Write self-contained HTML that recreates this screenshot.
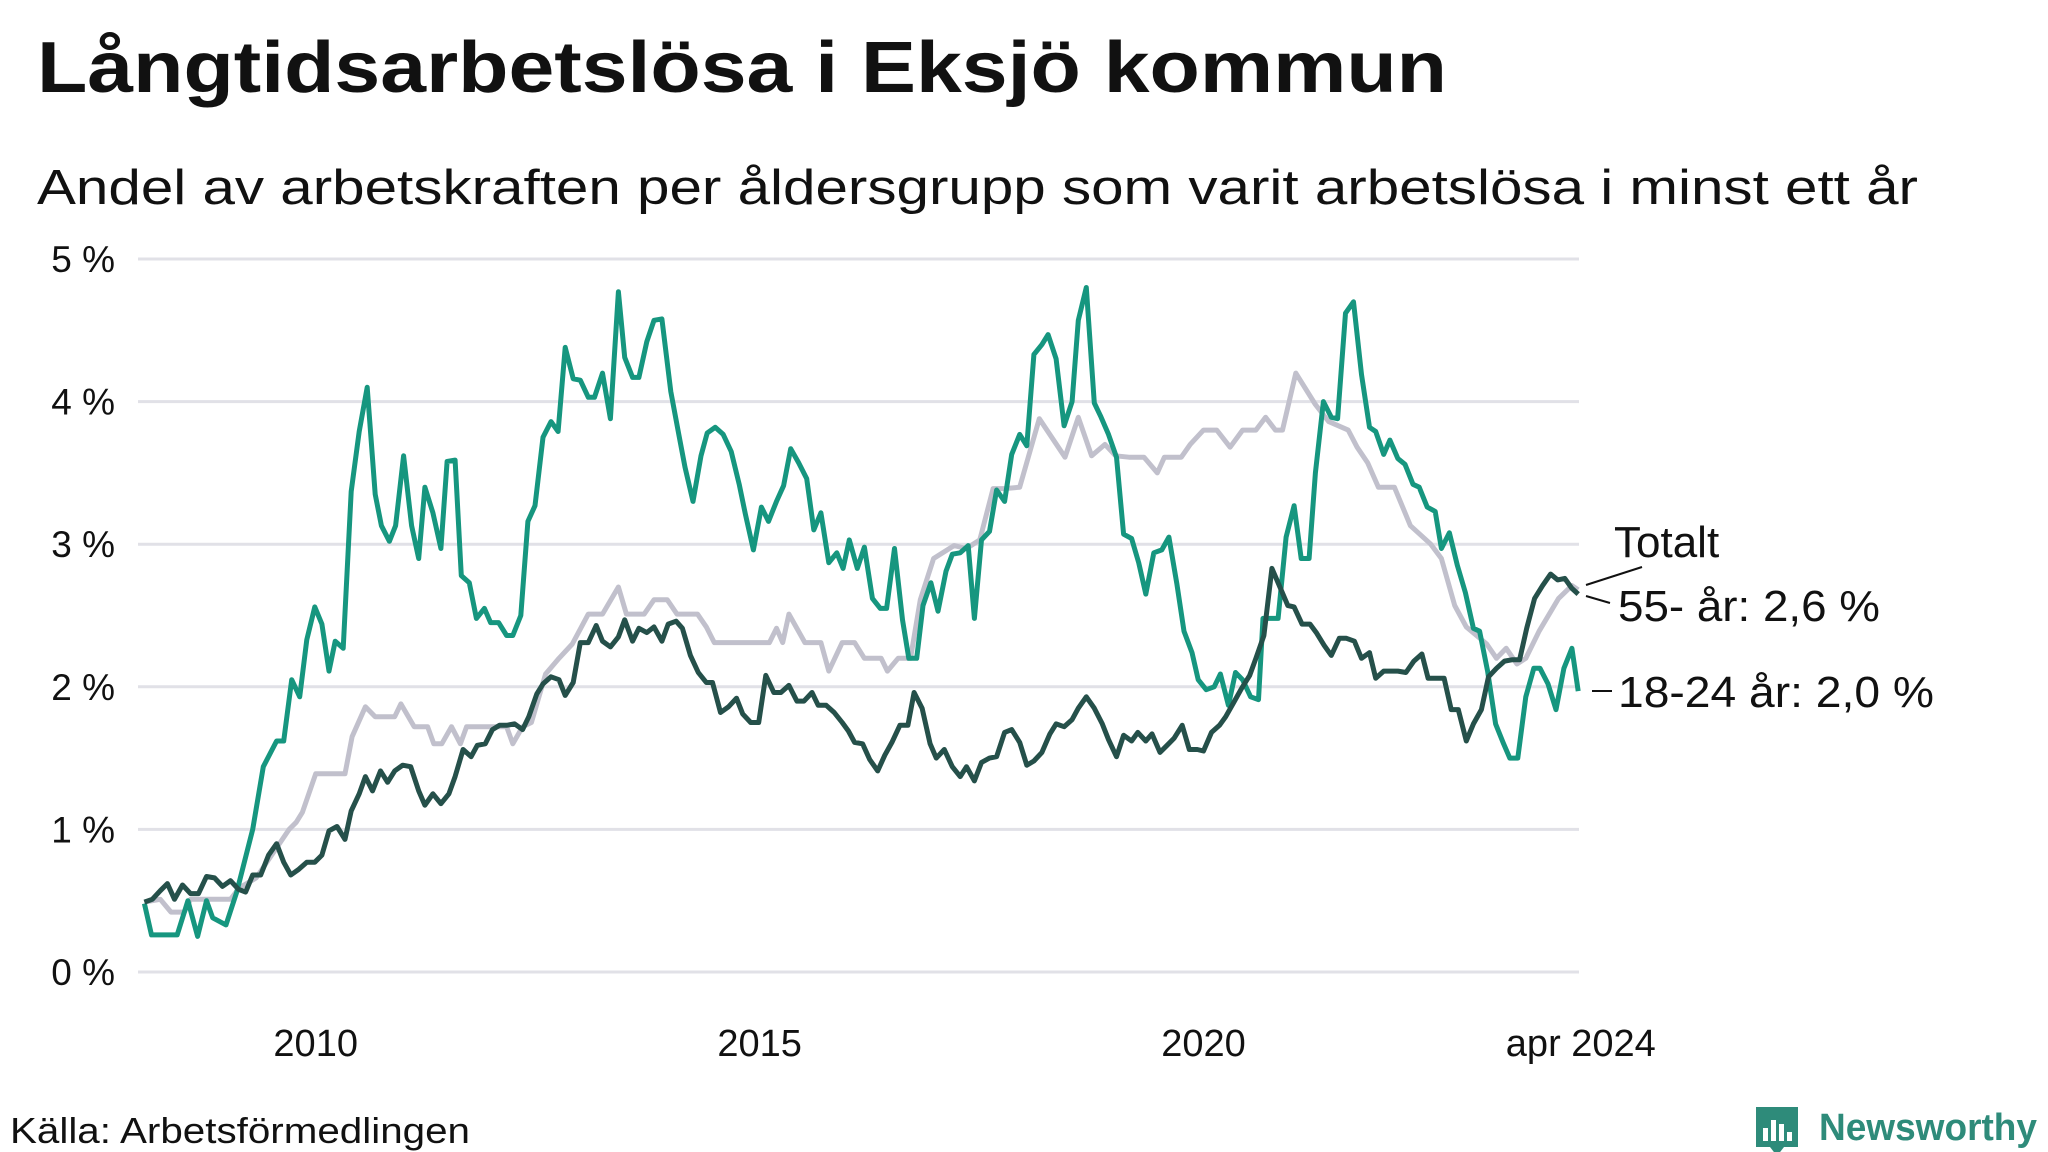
<!DOCTYPE html>
<html><head><meta charset="utf-8"><style>
html,body{margin:0;padding:0;background:#fff}
svg{display:block;font-family:"Liberation Sans",sans-serif}
</style></head><body>
<svg id="chart" width="2048" height="1152" viewBox="0 0 2048 1152">
<text x="37" y="92" font-size="72" font-weight="bold" fill="#111" textLength="1410" lengthAdjust="spacingAndGlyphs">Långtidsarbetslösa i Eksjö kommun</text>
<text x="37" y="204" font-size="49" fill="#111" textLength="1881" lengthAdjust="spacingAndGlyphs">Andel av arbetskraften per åldersgrupp som varit arbetslösa i minst ett år</text>
<g id="grid"></g>
<g id="yticks"></g>
<g id="xticks"></g>
<g id="lines"></g>
<g font-size="44" fill="#111">
<text x="1614" y="557">Totalt</text>
<text x="1618" y="621" textLength="262" lengthAdjust="spacingAndGlyphs">55- år: 2,6 %</text>
<text x="1618" y="707" textLength="316" lengthAdjust="spacingAndGlyphs">18-24 år: 2,0 %</text>
<line x1="1586" y1="585" x2="1642" y2="567" stroke="#111" stroke-width="2"/>
<line x1="1586" y1="596" x2="1610" y2="603" stroke="#111" stroke-width="2"/>
<line x1="1592" y1="691" x2="1612" y2="691" stroke="#111" stroke-width="2"/>
</g>
<text x="10" y="1143" font-size="36" fill="#111" textLength="460" lengthAdjust="spacingAndGlyphs">Källa: Arbetsförmedlingen</text>
<g>
<path d="M1756 1107 h42 v40 h-14 l-7 9 l-7 -9 h-14 z" fill="#2e8b7a"/>
<rect x="1763" y="1128" width="5" height="13" fill="#fff"/><rect x="1771" y="1120" width="5" height="21" fill="#fff"/><rect x="1779" y="1124" width="5" height="17" fill="#fff"/><rect x="1787" y="1132" width="5" height="9" fill="#fff"/>
<text x="1819" y="1140" font-size="38" font-weight="bold" fill="#2e8b7a" textLength="218" lengthAdjust="spacingAndGlyphs">Newsworthy</text>
</g>
</svg>
<script>
const yTicks=[0,1,2,3,4,5];
const yTickLabels=["0 %","1 %","2 %","3 %","4 %","5 %"];
const xTicks=[2010,2015,2020,2024.25];
const xTickLabels=["2010","2015","2020","apr 2024"];
const youthDates=[2008.07,2008.15,2008.44,2008.56,2008.67,2008.77,2008.84,2008.99,2009.11,2009.29,2009.41,2009.56,2009.64,2009.73,2009.82,2009.9,2009.99,2010.07,2010.15,2010.22,2010.31,2010.4,2010.49,2010.58,2010.67,2010.74,2010.83,2010.9,2010.99,2011.08,2011.16,2011.23,2011.32,2011.41,2011.48,2011.57,2011.64,2011.73,2011.81,2011.9,2011.97,2012.06,2012.15,2012.22,2012.31,2012.39,2012.47,2012.56,2012.65,2012.73,2012.81,2012.9,2012.98,2013.07,2013.14,2013.23,2013.32,2013.41,2013.48,2013.57,2013.64,2013.73,2013.81,2013.9,2014.0,2014.09,2014.16,2014.25,2014.34,2014.41,2014.5,2014.59,2014.68,2014.77,2014.84,2014.93,2015.02,2015.1,2015.19,2015.27,2015.35,2015.44,2015.53,2015.61,2015.69,2015.78,2015.87,2015.94,2016.01,2016.1,2016.18,2016.27,2016.36,2016.43,2016.52,2016.61,2016.68,2016.77,2016.84,2016.93,2017.01,2017.1,2017.17,2017.26,2017.35,2017.42,2017.5,2017.59,2017.67,2017.76,2017.84,2017.93,2018.01,2018.09,2018.18,2018.25,2018.34,2018.43,2018.52,2018.59,2018.68,2018.77,2018.84,2018.93,2019.02,2019.1,2019.19,2019.27,2019.35,2019.44,2019.53,2019.61,2019.7,2019.78,2019.87,2019.94,2020.03,2020.12,2020.19,2020.28,2020.36,2020.44,2020.53,2020.62,2020.67,2020.76,2020.84,2020.93,2021.02,2021.1,2021.19,2021.26,2021.35,2021.44,2021.51,2021.6,2021.69,2021.78,2021.87,2021.94,2022.03,2022.1,2022.19,2022.27,2022.36,2022.43,2022.52,2022.61,2022.68,2022.77,2022.86,2022.95,2023.04,2023.11,2023.2,2023.29,2023.38,2023.45,2023.54,2023.63,2023.72,2023.79,2023.88,2023.97,2024.06,2024.15,2024.22];
const youthValues=[0.48,0.26,0.26,0.5,0.25,0.5,0.38,0.33,0.56,1.0,1.44,1.62,1.62,2.05,1.93,2.33,2.56,2.44,2.11,2.32,2.27,3.37,3.79,4.1,3.35,3.13,3.02,3.13,3.62,3.13,2.9,3.4,3.22,2.97,3.58,3.59,2.78,2.73,2.48,2.55,2.45,2.45,2.36,2.36,2.5,3.16,3.27,3.75,3.86,3.79,4.38,4.16,4.15,4.03,4.03,4.2,3.88,4.77,4.31,4.17,4.17,4.42,4.57,4.58,4.07,3.77,3.54,3.3,3.62,3.78,3.82,3.77,3.65,3.42,3.21,2.96,3.26,3.16,3.3,3.41,3.67,3.57,3.46,3.1,3.22,2.87,2.94,2.83,3.03,2.83,2.98,2.62,2.55,2.55,2.97,2.47,2.2,2.2,2.57,2.73,2.53,2.81,2.93,2.94,2.99,2.48,3.03,3.09,3.38,3.3,3.63,3.77,3.69,4.33,4.4,4.47,4.3,3.83,4.0,4.57,4.8,3.99,3.9,3.77,3.61,3.07,3.04,2.87,2.65,2.94,2.96,3.05,2.72,2.39,2.24,2.05,1.98,2.0,2.09,1.87,2.1,2.05,1.93,1.91,2.48,2.48,2.48,3.05,3.27,2.9,2.9,3.5,4.0,3.89,3.88,4.62,4.7,4.19,3.82,3.79,3.63,3.73,3.6,3.56,3.42,3.4,3.26,3.23,2.97,3.08,2.85,2.66,2.41,2.39,2.11,1.74,1.6,1.5,1.5,1.93,2.13,2.13,2.02,1.84,2.13,2.27,1.97];
const totalDates=[2008.07,2008.16,2008.25,2008.33,2008.41,2008.5,2008.59,2008.68,2008.77,2008.86,2008.95,2009.04,2009.13,2009.21,2009.29,2009.38,2009.47,2009.56,2009.64,2009.72,2009.81,2009.9,2009.99,2010.07,2010.15,2010.24,2010.33,2010.4,2010.49,2010.56,2010.64,2010.73,2010.81,2010.89,2010.98,2011.07,2011.16,2011.23,2011.32,2011.41,2011.5,2011.57,2011.66,2011.75,2011.82,2011.91,2011.99,2012.07,2012.15,2012.24,2012.33,2012.4,2012.49,2012.56,2012.65,2012.74,2012.81,2012.9,2012.98,2013.07,2013.16,2013.23,2013.32,2013.41,2013.48,2013.57,2013.64,2013.73,2013.81,2013.9,2013.97,2014.06,2014.13,2014.22,2014.31,2014.4,2014.47,2014.56,2014.65,2014.74,2014.81,2014.9,2014.99,2015.07,2015.16,2015.24,2015.33,2015.42,2015.5,2015.59,2015.66,2015.75,2015.84,2015.93,2016.0,2016.07,2016.16,2016.24,2016.33,2016.41,2016.49,2016.58,2016.67,2016.74,2016.83,2016.92,2016.99,2017.08,2017.17,2017.26,2017.33,2017.42,2017.5,2017.59,2017.67,2017.76,2017.84,2017.93,2018.01,2018.09,2018.18,2018.27,2018.34,2018.43,2018.52,2018.59,2018.68,2018.77,2018.86,2018.93,2019.02,2019.1,2019.19,2019.26,2019.35,2019.42,2019.51,2019.59,2019.67,2019.76,2019.84,2019.93,2020.0,2020.09,2020.18,2020.25,2020.34,2020.43,2020.52,2020.59,2020.68,2020.77,2020.86,2020.95,2021.02,2021.11,2021.2,2021.27,2021.36,2021.44,2021.53,2021.61,2021.7,2021.78,2021.87,2021.94,2022.03,2022.1,2022.19,2022.28,2022.37,2022.46,2022.53,2022.62,2022.71,2022.79,2022.87,2022.96,2023.04,2023.13,2023.21,2023.3,2023.39,2023.48,2023.56,2023.64,2023.73,2023.82,2023.91,2023.99,2024.07,2024.15,2024.22];
const totalValues=[0.49,0.51,0.57,0.62,0.51,0.61,0.55,0.55,0.67,0.66,0.6,0.64,0.58,0.56,0.68,0.68,0.82,0.9,0.77,0.68,0.72,0.77,0.77,0.82,0.99,1.02,0.93,1.13,1.25,1.37,1.27,1.41,1.33,1.41,1.45,1.44,1.27,1.17,1.25,1.18,1.25,1.37,1.56,1.51,1.59,1.6,1.7,1.73,1.73,1.74,1.7,1.79,1.95,2.02,2.07,2.05,1.94,2.03,2.31,2.31,2.43,2.32,2.28,2.35,2.47,2.32,2.41,2.38,2.42,2.32,2.44,2.46,2.41,2.22,2.1,2.03,2.03,1.82,1.86,1.92,1.81,1.75,1.75,2.08,1.96,1.96,2.01,1.9,1.9,1.96,1.87,1.87,1.82,1.75,1.69,1.61,1.6,1.49,1.41,1.52,1.61,1.73,1.73,1.96,1.85,1.6,1.5,1.56,1.44,1.37,1.44,1.34,1.47,1.5,1.51,1.68,1.7,1.61,1.45,1.48,1.54,1.67,1.74,1.72,1.77,1.85,1.93,1.85,1.74,1.63,1.51,1.66,1.62,1.68,1.62,1.67,1.54,1.59,1.64,1.73,1.56,1.56,1.55,1.68,1.73,1.79,1.89,1.99,2.08,2.2,2.36,2.83,2.7,2.57,2.56,2.44,2.44,2.38,2.29,2.22,2.34,2.34,2.32,2.2,2.24,2.06,2.11,2.11,2.11,2.1,2.18,2.23,2.06,2.06,2.06,1.84,1.84,1.62,1.74,1.84,2.07,2.13,2.18,2.19,2.19,2.41,2.62,2.71,2.79,2.75,2.76,2.69,2.65];
const olderDates=[2008.07,2008.25,2008.37,2008.52,2008.59,2009.04,2009.14,2009.33,2009.56,2009.7,2009.78,2009.85,2010.0,2010.33,2010.41,2010.56,2010.67,2010.89,2010.96,2011.11,2011.26,2011.33,2011.42,2011.53,2011.63,2011.7,2012.15,2012.22,2012.33,2012.43,2012.59,2012.74,2012.89,2013.07,2013.23,2013.41,2013.5,2013.7,2013.81,2013.96,2014.07,2014.3,2014.4,2014.49,2015.11,2015.19,2015.26,2015.33,2015.51,2015.69,2015.78,2015.93,2016.07,2016.18,2016.37,2016.44,2016.56,2016.7,2016.81,2016.96,2017.19,2017.33,2017.48,2017.63,2017.76,2017.93,2018.15,2018.44,2018.59,2018.74,2018.89,2019.01,2019.16,2019.33,2019.48,2019.56,2019.75,2019.85,2020.0,2020.15,2020.3,2020.44,2020.59,2020.7,2020.81,2020.89,2021.04,2021.26,2021.41,2021.63,2021.73,2021.85,2021.97,2022.15,2022.33,2022.56,2022.68,2022.83,2022.96,2023.19,2023.3,2023.41,2023.53,2023.63,2023.78,2024.0,2024.15,2024.22];
const olderValues=[0.49,0.51,0.42,0.42,0.51,0.51,0.59,0.66,0.87,1.0,1.05,1.12,1.39,1.39,1.65,1.86,1.79,1.79,1.88,1.72,1.72,1.6,1.6,1.72,1.6,1.72,1.72,1.6,1.72,1.75,2.09,2.2,2.3,2.51,2.51,2.7,2.51,2.51,2.61,2.61,2.51,2.51,2.42,2.31,2.31,2.41,2.31,2.51,2.31,2.31,2.11,2.31,2.31,2.2,2.2,2.11,2.2,2.2,2.61,2.9,2.99,2.97,3.03,3.39,3.39,3.4,3.88,3.61,3.89,3.62,3.7,3.62,3.61,3.61,3.5,3.61,3.61,3.7,3.8,3.8,3.68,3.8,3.8,3.89,3.8,3.8,4.2,3.98,3.86,3.8,3.68,3.57,3.4,3.4,3.13,3.0,2.9,2.57,2.42,2.3,2.2,2.27,2.16,2.2,2.39,2.62,2.71,2.68];
const NS='http://www.w3.org/2000/svg';
function xScale(yr){return 315.7+(yr-2010)*88.78;}
function yScale(v){return 972-v*142.6;}
const grid=document.getElementById('grid'),yt=document.getElementById('yticks'),xt=document.getElementById('xticks'),lines=document.getElementById('lines');
yTicks.forEach((t,i)=>{
  const l=document.createElementNS(NS,'line');
  
  
  l.setAttribute('x1',138);l.setAttribute('x2',1579);l.setAttribute('y1',yScale(t));l.setAttribute('y2',yScale(t));
  l.setAttribute('stroke','#e1e1e7');l.setAttribute('stroke-width',3);
  grid.appendChild(l);
  const tx=document.createElementNS(NS,'text');
  
  
  tx.setAttribute('x',115);tx.setAttribute('y',yScale(t)+13);tx.setAttribute('text-anchor','end');
  tx.setAttribute('font-size','37');tx.setAttribute('fill','#111');
  tx.textContent=yTickLabels[i];
  yt.appendChild(tx);
});
xTicks.forEach((t,i)=>{
  const tx=document.createElementNS(NS,'text');
  
  
  tx.setAttribute('x',xScale(t));tx.setAttribute('y',1056);tx.setAttribute('text-anchor','middle');
  tx.setAttribute('font-size','38');tx.setAttribute('fill','#111');
  tx.textContent=xTickLabels[i];
  xt.appendChild(tx);
});
function drawLine(dates,vals,color,name){
  const p=document.createElementNS(NS,'path');
  
  
  p.setAttribute('d',dates.map((d,i)=>(i?'L':'M')+xScale(d).toFixed(1)+' '+yScale(vals[i]).toFixed(1)).join(' '));
  p.setAttribute('fill','none');p.setAttribute('stroke',color);p.setAttribute('stroke-width',5);
  p.setAttribute('stroke-linejoin','round');
  lines.appendChild(p);
}
drawLine(olderDates,olderValues,'#c1c0cc','line-55-plus');
drawLine(youthDates,youthValues,'#16967f','line-18-24');
drawLine(totalDates,totalValues,'#25504a','line-totalt');
</script>
</body></html>
